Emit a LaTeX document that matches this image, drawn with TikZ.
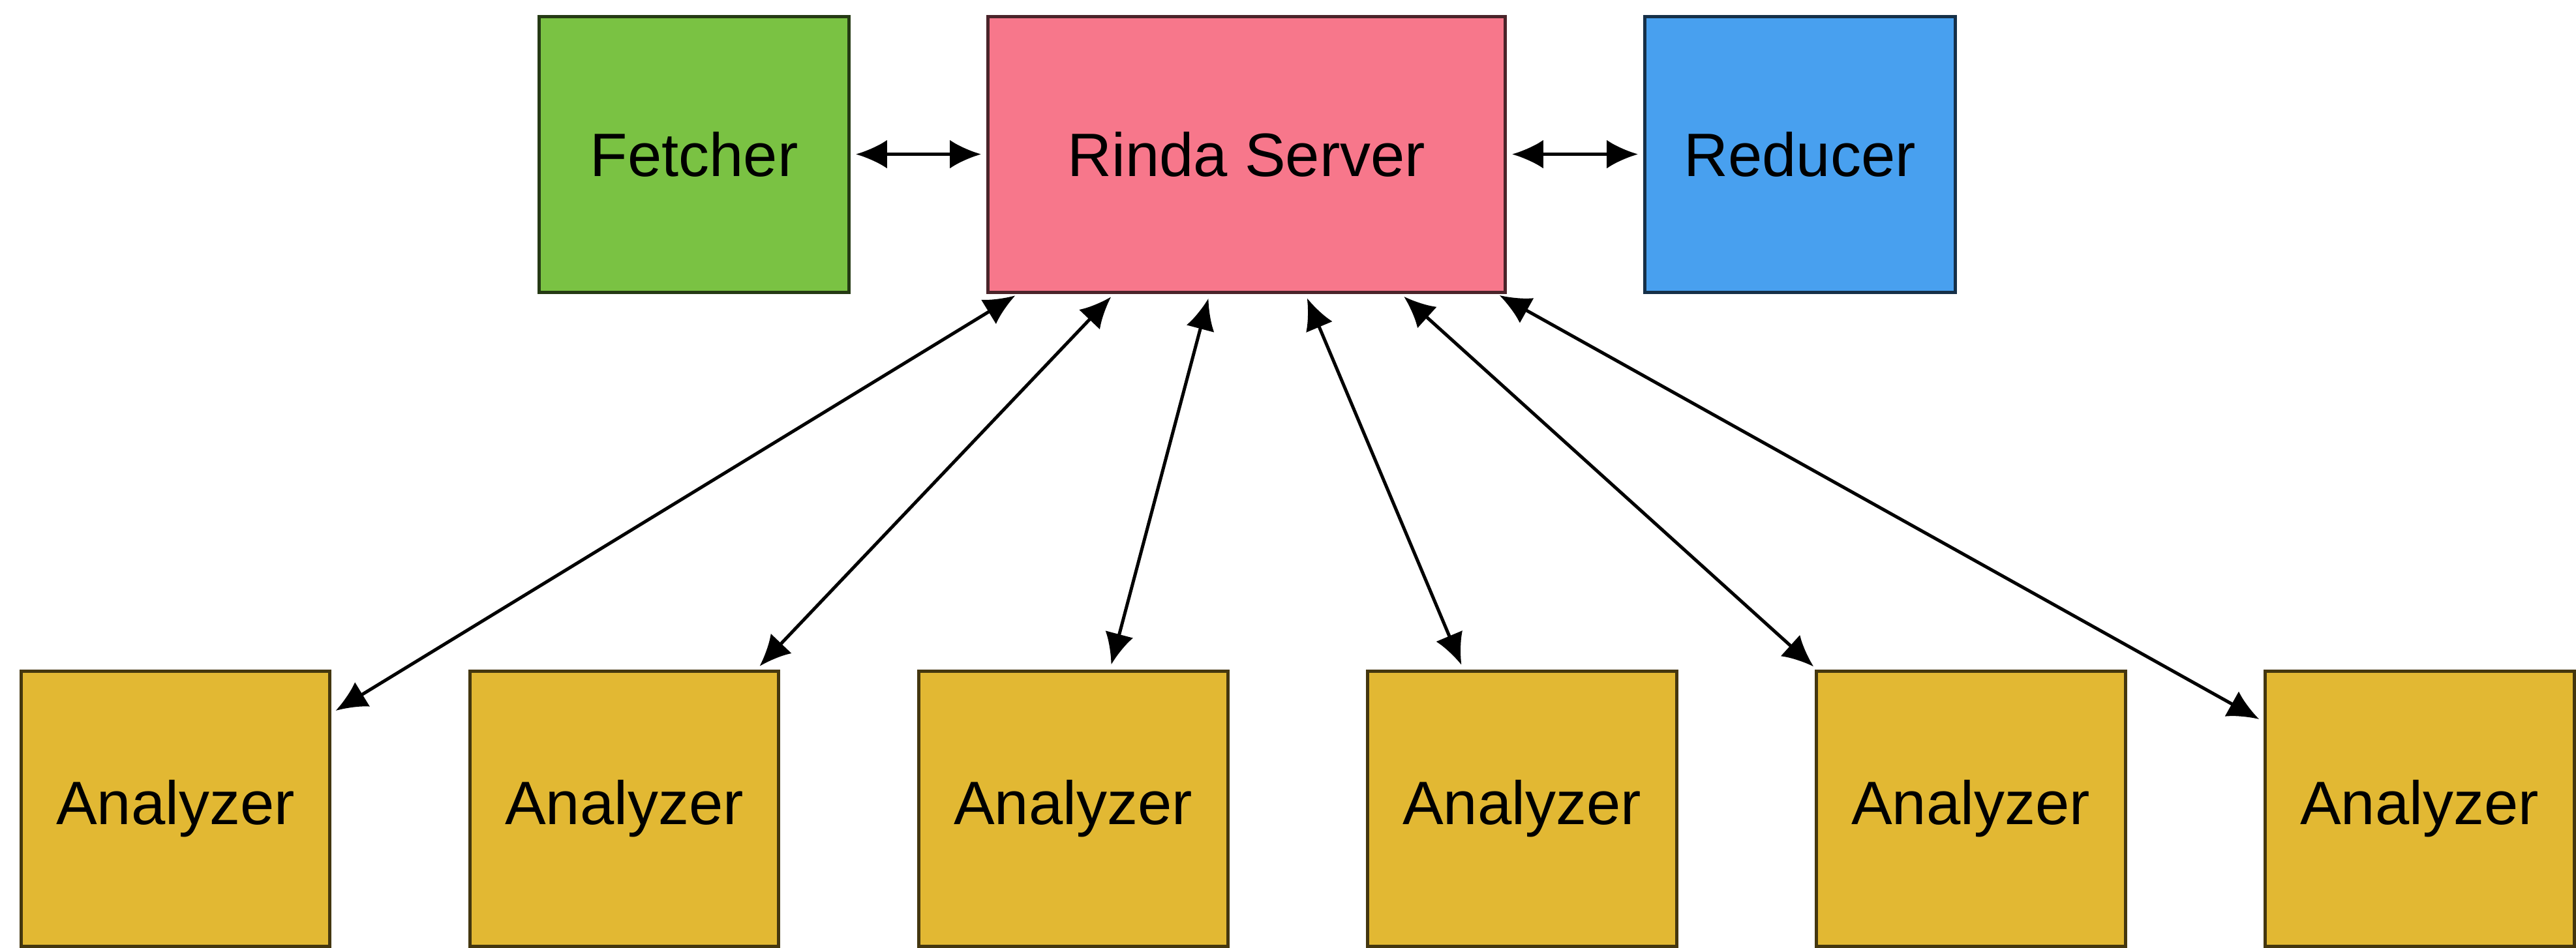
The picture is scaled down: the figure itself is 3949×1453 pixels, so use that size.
\documentclass[tikz,border=0pt]{standalone}
\usepackage{fontspec}
\setmainfont{Liberation Sans}
\usetikzlibrary{arrows.meta}
\definecolor{fetchg}{HTML}{7AC243}
\definecolor{rindap}{HTML}{F7778B}
\definecolor{reduceb}{HTML}{48A0EF}
\definecolor{analy}{HTML}{E2B833}
\begin{document}
\begin{tikzpicture}[x=0.1pt,y=-0.1pt,
  box/.style={rectangle,inner sep=0pt,outer sep=0pt,line width=0.5pt,
    minimum width=47.6pt,minimum height=42.3pt,font=\fontsize{9.4}{11}\selectfont},
  fbox/.style={box,fill=fetchg,draw=fetchg!30!black},
  rbox/.style={box,fill=rindap,draw=rindap!30!black,minimum width=79.4pt},
  dbox/.style={box,fill=reduceb,draw=reduceb!30!black},
  abox/.style={box,fill=analy,draw=analy!30!black,minimum width=47.4pt,minimum height=42.2pt},
  link/.style={line width=0.5pt,{Latex[length=4.8pt,width=4.4pt]}-{Latex[length=4.8pt,width=4.4pt]},
    shorten >=1pt,shorten <=1pt}]
\useasboundingbox (0,0) rectangle (3949,1453);
\node[fbox] (fetcher) at (1064,236.5) {Fetcher};
\node[rbox] (rinda) at (1911,236.5) {Rinda Server};
\node[dbox] (reducer) at (2759,236.5) {Reducer};
\node[abox] (a1) at (269,1240) {Analyzer};
\node[abox] (a2) at (957,1240) {Analyzer};
\node[abox] (a3) at (1645,1240) {Analyzer};
\node[abox] (a4) at (2333,1240) {Analyzer};
\node[abox] (a5) at (3021,1240) {Analyzer};
\node[abox] (a6) at (3709,1240) {Analyzer};
\draw[link] (fetcher) -- (rinda);
\draw[link] (rinda) -- (reducer);
\foreach \a in {a1,a2,a3,a4,a5,a6}{
  \draw[link] (rinda) -- (\a);
}
\end{tikzpicture}
\end{document}
